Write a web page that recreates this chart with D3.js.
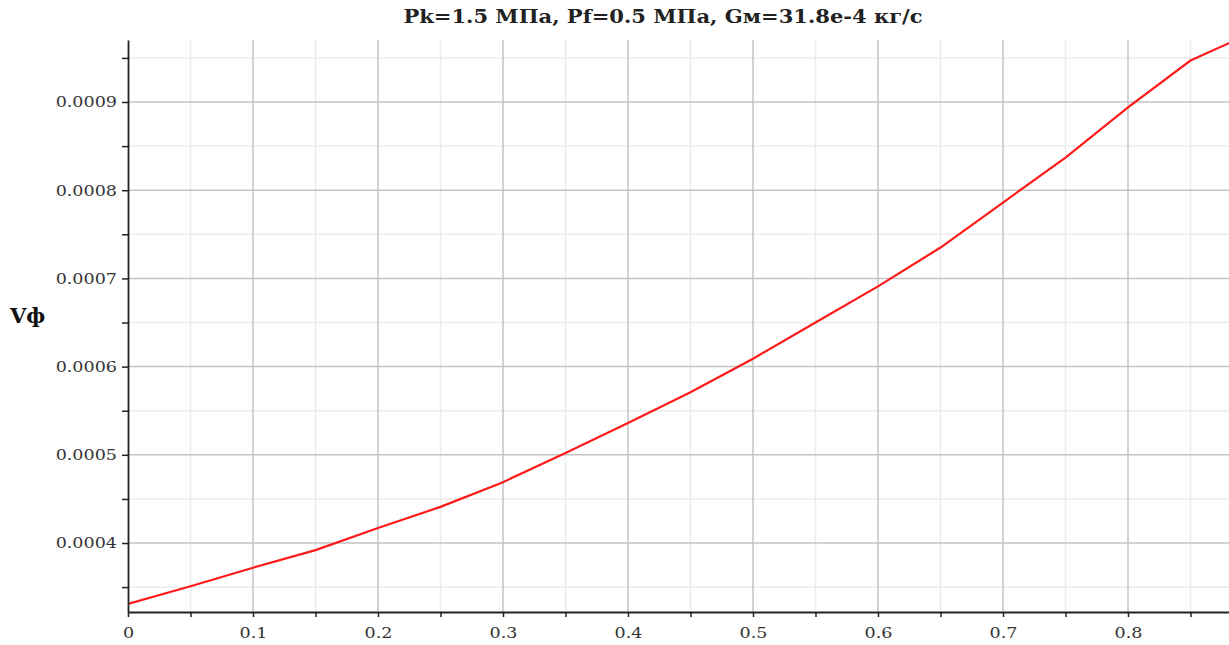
<!DOCTYPE html>
<html>
<head>
<meta charset="utf-8">
<script src="https://cdn.jsdelivr.net/npm/d3@7"></script>
<style>
  body { margin: 0; background: #fff; }
  text { font-family: "DejaVu Serif", serif; }
</style>
</head>
<body>
<div id="mainDiv"></div>
<script>
'use strict';

// data
var xValues = [0, 0.05, 0.1, 0.15, 0.2, 0.25, 0.3, 0.35, 0.4, 0.45, 0.5, 0.55, 0.6, 0.65, 0.7, 0.75, 0.8, 0.85, 0.9];
var vValues = [0.000331, 0.000351, 0.000372, 0.000392, 0.000417, 0.000441, 0.000469, 0.000502, 0.000536,
               0.000571, 0.000609, 0.000650, 0.000691, 0.000735, 0.000786, 0.000837, 0.000894, 0.000947, 0.000979];
var xTicks = [0, 0.1, 0.2, 0.3, 0.4, 0.5, 0.6, 0.7, 0.8];
var yTicks = [0.0004, 0.0005, 0.0006, 0.0007, 0.0008, 0.0009];
var titleText = 'Pk=1.5 МПа, Pf=0.5 МПа, Gм=31.8e-4 кг/с';
var yLabel = 'Vф';

var chart = {};
chart.W = 1229;
chart.H = 645;
chart.margins = {top: 40, bottom: 33, left: 128, right: 0};
chart.w = chart.W - chart.margins.left - chart.margins.right;
chart.h = chart.H - chart.margins.top - chart.margins.bottom;
chart.stretch = 1.17; // the picture's text is a bit wider than the font

chart.run = function() {
    var svg = d3.select('#mainDiv').append('svg')
        .attr('width', chart.W)
        .attr('height', chart.H);

    var x = d3.scaleLinear().domain([0, 0.8808]).range([0, chart.w]);
    var y = d3.scaleLinear().domain([0.0003218, 0.0009703]).range([chart.h, 0]);

    var g = svg.append('g')
        .attr('transform', 'translate(' + chart.margins.left + ',' + chart.margins.top + ')');

    svg.append('defs').append('clipPath').attr('id', 'clip')
        .append('rect').attr('width', chart.w).attr('height', chart.h);

    var xMinor = d3.range(0.05, 0.88, 0.1);
    var yMinor = d3.range(0.00035, 0.00097, 0.0001);

    // minor grid
    g.selectAll('.xminor').data(xMinor).enter().append('line')
        .attr('x1', function(d) { return x(d); }).attr('x2', function(d) { return x(d); })
        .attr('y1', 0).attr('y2', chart.h)
        .attr('stroke', '#ececec').attr('stroke-width', 1.5);
    g.selectAll('.yminor').data(yMinor).enter().append('line')
        .attr('y1', function(d) { return y(d); }).attr('y2', function(d) { return y(d); })
        .attr('x1', 0).attr('x2', chart.w)
        .attr('stroke', '#ececec').attr('stroke-width', 1.5);

    // major grid
    g.selectAll('.xmajor').data(xTicks.slice(1)).enter().append('line')
        .attr('x1', function(d) { return x(d); }).attr('x2', function(d) { return x(d); })
        .attr('y1', 0).attr('y2', chart.h)
        .attr('stroke', '#c4c4c4').attr('stroke-width', 1.5);
    g.selectAll('.ymajor').data(yTicks).enter().append('line')
        .attr('y1', function(d) { return y(d); }).attr('y2', function(d) { return y(d); })
        .attr('x1', 0).attr('x2', chart.w)
        .attr('stroke', '#c4c4c4').attr('stroke-width', 1.5);

    // the curve
    g.append('path')
        .datum(xValues.map(function(d, i) { return {x: d, y: vValues[i]}; }))
        .attr('clip-path', 'url(#clip)')
        .attr('fill', 'none')
        .attr('stroke', '#ff1a1a')
        .attr('stroke-width', 2.2)
        .attr('d', d3.line()
            .x(function(d) { return x(d.x); })
            .y(function(d) { return y(d.y); }));

    // axes
    var xAxis = g.append('g')
        .attr('transform', 'translate(0,' + chart.h + ')')
        .call(d3.axisBottom(x).tickValues(xTicks).tickSize(5).tickSizeOuter(0)
            .tickFormat(function(d) { return d === 0 ? '0' : d3.format('.1f')(d); }));
    g.append('g')
        .attr('transform', 'translate(0,' + chart.h + ')')
        .call(d3.axisBottom(x).tickValues(xMinor).tickSize(5).tickFormat(''))
        .select('.domain').remove();

    var yAxis = g.append('g')
        .call(d3.axisLeft(y).tickValues(yTicks).tickSize(6).tickSizeOuter(0)
            .tickFormat(d3.format('.4f')));
    g.append('g')
        .call(d3.axisLeft(y).tickValues(yMinor).tickSize(6).tickFormat(''))
        .select('.domain').remove();

    g.selectAll('.domain').attr('stroke', '#222').attr('stroke-width', 1.8);
    g.selectAll('.tick line').attr('stroke', '#222').attr('stroke-width', 1.5);
    g.selectAll('.tick text')
        .style('font-family', '"DejaVu Serif", serif')
        .style('font-size', '15px')
        .attr('fill', '#333');

    // stretch tick labels sideways like the picture
    xAxis.selectAll('.tick text')
        .attr('y', 0).attr('dy', 0)
        .attr('transform', 'translate(0,26) scale(' + chart.stretch + ',1)');
    yAxis.selectAll('.tick text')
        .attr('x', 0).attr('dy', '0.32em')
        .attr('transform', 'translate(-11,0) scale(' + chart.stretch + ',1)');

    // title and y label
    svg.append('text')
        .attr('transform', 'translate(663,23) scale(' + chart.stretch + ',1)')
        .attr('text-anchor', 'middle')
        .style('font-size', '18px')
        .style('font-weight', 'bold')
        .attr('fill', '#222')
        .text(titleText);

    svg.append('text')
        .attr('x', 10).attr('y', 323)
        .style('font-size', '21px')
        .style('font-weight', 'bold')
        .attr('fill', '#111')
        .text(yLabel);
};

window.onload = chart.run;
</script>
</body>
</html>
